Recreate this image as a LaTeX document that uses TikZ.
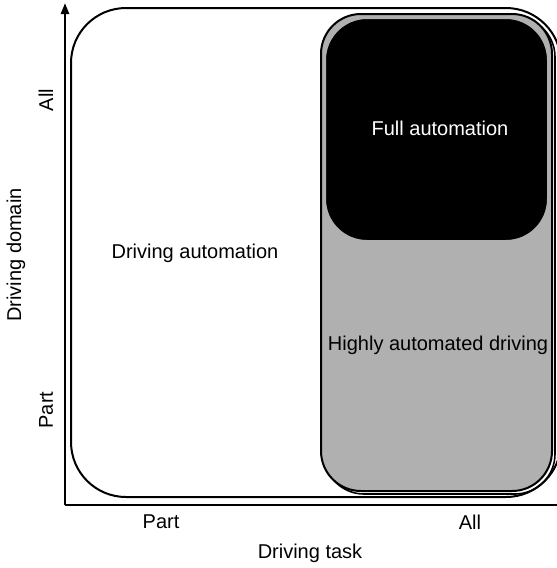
\documentclass[tikz,border=0pt]{standalone}
\usepackage{fontspec}
\setmainfont{Liberation Sans}
\usetikzlibrary{arrows.meta}
\definecolor{midgray}{HTML}{B0B0B0}
\tikzset{
  lbl/.style={font=\fontsize{20}{23}\selectfont, inner sep=0pt},
  axisline/.style={line width=2.4pt},
  frame/.style={line width=2pt, rounded corners=#1},
}
\begin{document}
\begin{tikzpicture}[x=1pt,y=-1pt]
  \useasboundingbox (0,0) rectangle (557,568);

  % outer region: driving automation
  \draw[frame=55pt, fill=white] (71,8) rectangle (561,497);

  % highly automated driving region, with a soft drop shadow
  \draw[frame=40pt, line width=1.6pt] (324,17) rectangle (555,494);
  \draw[frame=40pt, fill=midgray] (321,14) rectangle (552,491);

  % full automation region
  \draw[rounded corners=42pt, draw=midgray, line width=2pt, fill=black] (325,18) rectangle (548,241);

  % axes
  \coordinate (origin) at (65,505);
  \coordinate (ytop) at (65,3);
  \coordinate (xend) at (560,505);
  \draw[axisline, -{Triangle[width=8pt,length=11pt]}] (origin) -- (ytop);
  \draw[axisline] (origin) -- (xend);

  % labels inside the regions
  \node[lbl, text=white] (full) at (440,128) {Full automation};
  \node[lbl] (drv) at (195,253) {Driving automation};
  \node[lbl] (high) at (438,345) {Highly automated driving};

  % axis labels
  \node[lbl] (xpart) at (161,522) {Part};
  \node[lbl] (xall) at (470,522) {All};
  \node[lbl] (xname) at (310,553) {Driving task};
  \node[lbl, rotate=90] (yall) at (46,100) {All};
  \node[lbl, rotate=90] (ypart) at (46,410) {Part};
  \node[lbl, rotate=90] (yname) at (16,255) {Driving domain};
\end{tikzpicture}
\end{document}
